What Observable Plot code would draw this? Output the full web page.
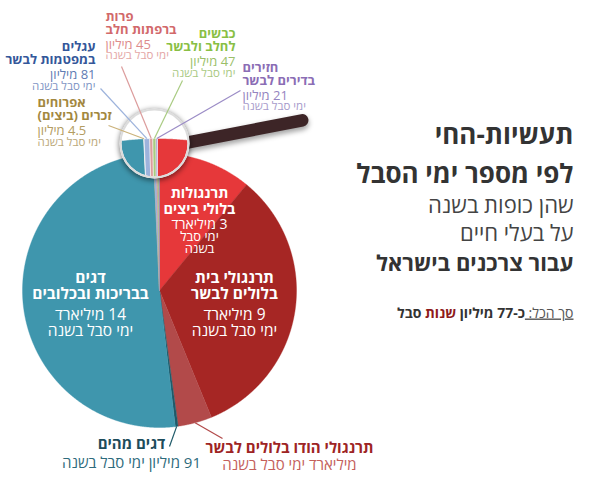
<!DOCTYPE html>
<html>
<head>
<meta charset="utf-8">
<script src="https://cdn.jsdelivr.net/npm/d3@7"></script>
<script src="https://cdn.jsdelivr.net/npm/@observablehq/plot@0.6"></script>
<style>
  body { margin: 0; background: #fff; }
  #chart { width: 600px; height: 477px; }
</style>
</head>
<body>
<div id="chart"></div>
<script>
// ---------------- data ----------------
const categories = [
  "תרנגולות בלולי ביצים", "תרנגולי בית בלולים לבשר", "תרנגולי הודו בלולים לבשר",
  "דגים מהים", "דגים בבריכות ובכלובים", "אפרוחים זכרים (ביצים)",
  "עגלים במפטמות לבשר", "פרות ברפתות חלב", "כבשים לחלב ולבשר", "חזירים בדירים לבשר"
];
// suffering days per year
const sufferingDays = [3e9, 9e9, 1.1e9, 91e6, 14e9, 4.5e6, 81e6, 45e6, 47e6, 21e6];
const nameLines = [
  ["תרנגולות", "בלולי ביצים"], ["תרנגולי בית", "בלולים לבשר"], ["תרנגולי הודו בלולים לבשר"],
  ["דגים מהים"], ["דגים", "בבריכות ובכלובים"], ["אפרוחים", "זכרים (ביצים)"],
  ["עגלים", "במפטמות לבשר"], ["פרות", "ברפתות חלב"], ["כבשים", "לחלב ולבשר"], ["חזירים", "בדירים לבשר"]
];
const amountLines = [
  ["3 מיליארד", "ימי סבל", "בשנה"], ["9 מיליארד", "ימי סבל בשנה"], ["מיליארד ימי סבל בשנה"],
  ["91 מיליון ימי סבל בשנה"], ["14 מיליארד", "ימי סבל בשנה"], ["4.5 מיליון", "ימי סבל בשנה"],
  ["81 מיליון", "ימי סבל בשנה"], ["45 מיליון", "ימי סבל בשנה"], ["47 מיליון", "ימי סבל בשנה"], ["21 מיליון", "ימי סבל בשנה"]
];
const titleLines = ["תעשיות-החי", "לפי מספר ימי הסבל", "שהן כופות בשנה", "על בעלי חיים", "עבור צרכנים בישראל"];
const summaryParts = ["סך הכל:", "כ-77 מיליון", "שנות", "סבל"];

// ---------------- styles / layout ----------------
const sliceColors = ["#e6383a", "#a62624", "#b24a4a", "#1f5a69", "#3f96ad", "#cbb27a", "#9db3dc", "#dc9c9c", "#a9cb82", "#9b8cc6"];
const FONT = "'Open Sans', 'Liberation Sans', 'DejaVu Sans', sans-serif";
const PIE = {cx: 159, cy: 290, r: 137};
const LENS = {x: 154, y: 143, r: 33, k: 2.2, topX: 157, topY: 138};
const HANDLE = {startDist: 26, startAngle: 1, angle: -11, length: 124, width: 12.5, color: "#3d2527"};

const labelLayout = [
  {x: 199, anchor: "middle", base: [197, 213, 228, 240, 252], sizes: [14.5, 14.5, 14, 13, 13], fills: ["#fff", "#fff", "#fff", "#fff", "#fff"]},
  {x: 234, anchor: "middle", base: [282, 298, 319, 335], sizes: [15.5, 15.5, 15.5, 15.5], fills: ["#fff", "#fff", "#fff", "#fff"]},
  {x: 289, anchor: "middle", base: [452, 469], sizes: [15, 15], fills: ["#9e2424", "#c4605c"]},
  {x: 131, anchor: "middle", base: [448, 467], sizes: [15, 15], fills: ["#1d4c5b", "#2e6b7c"]},
  {x: 90, anchor: "middle", base: [282, 298, 319, 335], sizes: [15.5, 15.5, 15.5, 15.5], fills: ["#fff", "#fff", "#fff", "#fff"]},
  {x: 37, anchor: "start", base: [106, 119, 134, 145], sizes: [13, 13, 13, 11.5], fills: ["#a3883f", "#a3883f", "#b39c62", "#bba879"]},
  {x: 95, anchor: "end", base: [50, 63, 78, 89], sizes: [13, 13, 13, 11.5], fills: ["#34579a", "#34579a", "#5f7cb3", "#7f95c4"]},
  {x: 105, anchor: "start", base: [20, 33, 48, 58], sizes: [13, 13, 13, 11.5], fills: ["#d2696b", "#d2696b", "#dd8c8c", "#e4a7a6"]},
  {x: 235, anchor: "end", base: [37, 50, 65, 76], sizes: [13, 13, 13, 11.5], fills: ["#89bf45", "#89bf45", "#9bbf69", "#a9c983"]},
  {x: 242, anchor: "start", base: [71, 84, 99, 109], sizes: [13, 13, 13, 11.5], fills: ["#8b6db5", "#8b6db5", "#9584c0", "#a89ccb"]}
];
// where each leader line leaves its label (index -> point)
const leaderFrom = {5: [108, 125], 6: [100, 88], 7: [121, 66], 8: [182, 80], 9: [240, 90], 3: [169, 446], 2: [222, 438]};
const TITLE = {x: 573, base: [143, 182, 212, 240, 270], sizes: [26, 26, 22, 22, 22],
  weights: ["bold", "bold", "normal", "normal", "bold"], fills: ["#333", "#333", "#444", "#444", "#333"]};
const SUMMARY = {x: 573, y: 317, size: 14};

// ---------------- geometry ----------------
const rtl = s => "\u202B" + s + "\u202C";
const rows = categories.map((c, i) => ({i, c, v: sufferingDays[i]}));
const arcs = d3.pie().sort(null).value(d => d.v)(rows);
const polar = (a, r) => [PIE.cx + r * Math.sin(a), PIE.cy - r * Math.cos(a)];
const F = [PIE.cx - (LENS.topX - LENS.x) / LENS.k, PIE.cy - PIE.r - (LENS.topY - LENS.y) / LENS.k];
const magnify = ([x, y]) => [LENS.x + LENS.k * (x - F[0]), LENS.y + LENS.k * (y - F[1])];
const STEP = 0.2 * Math.PI / 180;
function wedge(a) {
  const n = Math.max(2, Math.ceil((a.endAngle - a.startAngle) / STEP) + 1);
  const pts = [[PIE.cx, PIE.cy]];
  for (let j = 0; j < n; j++) pts.push(polar(a.startAngle + (a.endAngle - a.startAngle) * j / (n - 1), PIE.r));
  pts.push([PIE.cx, PIE.cy]);
  return pts;
}
const mainPts = arcs.flatMap(a => wedge(a).map(([x, y]) => ({i: a.data.i, x, y, color: sliceColors[a.data.i]})));
const lensPts = arcs.flatMap(a => wedge(a).map(magnify).map(([x, y]) => ({i: a.data.i, x, y, color: sliceColors[a.data.i]})));

const leaders = arcs.filter(a => leaderFrom[a.data.i]).map(a => {
  const mid = (a.startAngle + a.endAngle) / 2;
  const small = [5, 6, 7, 8, 9].includes(a.data.i);
  const [x2, y2] = small ? magnify(polar(mid, PIE.r)) : polar(mid, PIE.r);
  const [x1, y1] = leaderFrom[a.data.i];
  return {x1, y1, x2, y2, color: sliceColors[a.data.i] };
});

const hs = HANDLE.startAngle * Math.PI / 180, ha = HANDLE.angle * Math.PI / 180;
const h0 = [LENS.x + HANDLE.startDist * Math.cos(hs), LENS.y + HANDLE.startDist * Math.sin(hs)];
const handlePts = [{x: h0[0], y: h0[1]}, {x: h0[0] + HANDLE.length * Math.cos(ha), y: h0[1] + HANDLE.length * Math.sin(ha)}];
const lensCenter = [{x: LENS.x, y: LENS.y}];

// ---------------- text rows ----------------
const textRows = [];
labelLayout.forEach((L, i) => {
  const lines = [...nameLines[i], ...amountLines[i]];
  lines.forEach((t, j) => textRows.push({t: rtl(t), x: L.x, y: L.base[j], anchor: L.anchor,
    weight: j < nameLines[i].length ? "bold" : "normal", size: L.sizes[j], fill: L.fills[j]}));
});
titleLines.forEach((t, j) => textRows.push({t: rtl(t), x: TITLE.x, y: TITLE.base[j], anchor: "end",
  weight: TITLE.weights[j], size: TITLE.sizes[j], fill: TITLE.fills[j]}));

const textMarks = [];
for (const anchor of ["start", "middle", "end"]) for (const weight of ["bold", "normal"]) {
  const sub = textRows.filter(d => d.anchor === anchor && d.weight === weight);
  if (sub.length) textMarks.push(Plot.text(sub, {x: "x", y: "y", text: "t", fill: "fill", fontSize: d => d.size,
    fontWeight: weight, textAnchor: anchor, lineAnchor: "bottom", fontFamily: FONT}));
}

// ---------------- plot ----------------
const svg = Plot.plot({
  width: 600, height: 477, margin: 0,
  x: {domain: [0, 600], range: [0, 600], axis: null},
  y: {domain: [0, 477], range: [0, 477], axis: null},
  color: {type: "identity"},
  style: {fontFamily: FONT, background: "#fff", overflow: "visible"},
  marks: [
    Plot.line(mainPts, {x: "x", y: "y", z: "i", fill: "color", stroke: "color", strokeWidth: 0.4, curve: "linear"}),
    // handle shadow + handle
    Plot.line(handlePts, {x: "x", y: "y", stroke: "#000", strokeOpacity: 0.35, strokeWidth: HANDLE.width + 1, dy: 3, ariaDescription: "shadow"}),
    Plot.line(handlePts, {x: "x", y: "y", stroke: HANDLE.color, strokeWidth: HANDLE.width}),
    // lens shadow, disc, content, rim
    Plot.dot(lensCenter, {x: "x", y: "y", r: LENS.r + 3, fill: "#000", fillOpacity: 0.45, dy: 1.5, ariaDescription: "shadow"}),
    Plot.dot(lensCenter, {x: "x", y: "y", r: LENS.r + 2, fill: "#fff"}),
    Plot.line(lensPts, {x: "x", y: "y", z: "i", fill: "color", stroke: "#fff", strokeWidth: 0.5, curve: "linear", ariaDescription: "lens-content"}),
    Plot.dot(lensCenter, {x: "x", y: "y", r: LENS.r + 1, fill: "none", stroke: "#dcdcdc", strokeWidth: 2}),
    // leader lines
    Plot.link(leaders, {x1: "x1", y1: "y1", x2: "x2", y2: "y2", stroke: "color", strokeWidth: 1.2}),
    ...textMarks,
    Plot.text([0], {x: () => SUMMARY.x, y: () => SUMMARY.y, text: () => summaryParts.join(" "), fontSize: SUMMARY.size,
      textAnchor: "end", lineAnchor: "bottom", fill: "#333", fontFamily: FONT, ariaDescription: "summary"})
  ]
});

// clip lens content to the lens, blur shadows
const s = d3.select(svg);
const defs = s.insert("defs", ":first-child");
defs.append("clipPath").attr("id", "lensClip").append("circle").attr("cx", LENS.x).attr("cy", LENS.y).attr("r", LENS.r);
s.selectAll('g[aria-description="lens-content"]').attr("clip-path", "url(#lensClip)");
s.selectAll('g[aria-description="shadow"]').style("filter", "blur(2.5px)");

// rich summary line
const st = s.select('g[aria-description="summary"] text');
st.text(null);
const styles = [
  {fill: "#555", weight: "normal", deco: "underline"},
  {fill: "#333", weight: "bold"},
  {fill: "#8e1b1b", weight: "bold"},
  {fill: "#333", weight: "bold"}
];
summaryParts.forEach((p, j) => {
  const txt = (j === 0 ? "\u202B" : "") + p + (j < summaryParts.length - 1 ? " " : "\u202C");
  const ts = st.append("tspan").text(txt).attr("fill", styles[j].fill).attr("font-weight", styles[j].weight);
  if (styles[j].deco) ts.style("text-decoration", "underline");
});

document.getElementById("chart").appendChild(svg);
</script>
</body>
</html>
